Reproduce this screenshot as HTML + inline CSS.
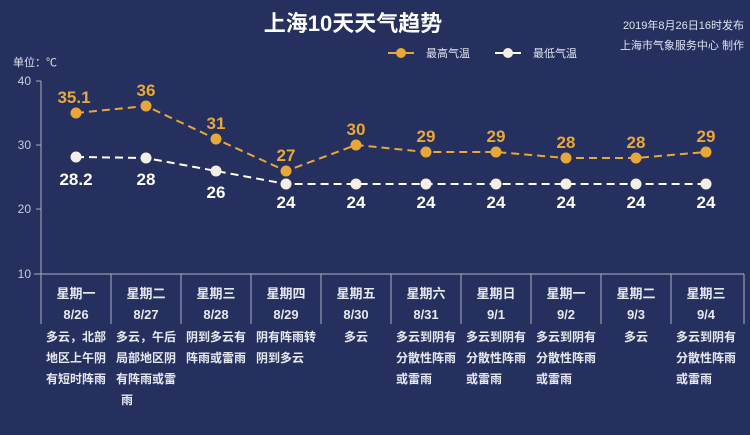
<!DOCTYPE html><html><head><meta charset="utf-8"><style>
body{margin:0;width:750px;height:430px;background:#25305e;overflow:hidden;font-family:"Liberation Sans","Noto Sans CJK SC",sans-serif}
</style></head><body>
<svg width="750" height="430" xmlns="http://www.w3.org/2000/svg" font-family="Liberation Sans, Noto Sans CJK SC, sans-serif">
<text x="353" y="31" fill="#fff" font-size="22" font-weight="bold" text-anchor="middle">上海10天天气趋势</text>
<text x="744" y="29" fill="#dfe3ee" font-size="11" text-anchor="end">2019年8月26日16时发布</text>
<text x="744" y="49" fill="#dfe3ee" font-size="11" text-anchor="end">上海市气象服务中心 制作</text>
<line x1="388" y1="53" x2="414" y2="53" stroke="#e8a838" stroke-width="2"/><circle cx="401" cy="53" r="5" fill="#e8a838"/>
<text x="426" y="57" fill="#dfe3ee" font-size="11">最高气温</text>
<line x1="495" y1="53" x2="521" y2="53" stroke="#fff" stroke-width="2"/><circle cx="508" cy="53" r="5" fill="#f3efe6"/>
<text x="533" y="57" fill="#dfe3ee" font-size="11">最低气温</text>
<text x="13" y="66" fill="#dfe3ee" font-size="11">单位：℃</text>
<g fill="#c8ccd8" font-size="12" text-anchor="end">
<text x="31" y="85">40</text><text x="31" y="149">30</text><text x="31" y="213">20</text><text x="31" y="278">10</text></g>
<g stroke="#a8afc4" stroke-width="1">
<line x1="41" y1="81" x2="41" y2="324"/><line x1="36" y1="81" x2="41" y2="81"/><line x1="36" y1="145" x2="41" y2="145"/><line x1="36" y1="209" x2="41" y2="209"/>
<line x1="34" y1="274" x2="744" y2="274"/>
<line x1="111" y1="274" x2="111" y2="324"/><line x1="181" y1="274" x2="181" y2="324"/><line x1="251" y1="274" x2="251" y2="324"/><line x1="321" y1="274" x2="321" y2="324"/><line x1="391" y1="274" x2="391" y2="324"/><line x1="461" y1="274" x2="461" y2="324"/><line x1="531" y1="274" x2="531" y2="324"/><line x1="601" y1="274" x2="601" y2="324"/><line x1="671" y1="274" x2="671" y2="324"/><line x1="744" y1="274" x2="744" y2="324"/>
</g>
<polyline fill="none" stroke="#e8a838" stroke-width="2" stroke-dasharray="8,5" points="76,113 146,106 216,139 286,171 356,145 426,152 496,152 566,158 636,158 706,152"/>
<polyline fill="none" stroke="#fff" stroke-width="2" stroke-dasharray="8,5" points="76,157 146,158 216,171 286,184 356,184 426,184 496,184 566,184 636,184 706,184"/>
<g fill="#e8a838"><circle cx="76" cy="113" r="5.5"/><circle cx="146" cy="106" r="5.5"/><circle cx="216" cy="139" r="5.5"/><circle cx="286" cy="171" r="5.5"/><circle cx="356" cy="145" r="5.5"/><circle cx="426" cy="152" r="5.5"/><circle cx="496" cy="152" r="5.5"/><circle cx="566" cy="158" r="5.5"/><circle cx="636" cy="158" r="5.5"/><circle cx="706" cy="152" r="5.5"/></g>
<g fill="#f3efe6"><circle cx="76" cy="157" r="5.5"/><circle cx="146" cy="158" r="5.5"/><circle cx="216" cy="171" r="5.5"/><circle cx="286" cy="184" r="5.5"/><circle cx="356" cy="184" r="5.5"/><circle cx="426" cy="184" r="5.5"/><circle cx="496" cy="184" r="5.5"/><circle cx="566" cy="184" r="5.5"/><circle cx="636" cy="184" r="5.5"/><circle cx="706" cy="184" r="5.5"/></g>
<g fill="#e8a838" font-size="17" font-weight="bold" text-anchor="middle">
<text x="74" y="103">35.1</text><text x="146" y="96">36</text><text x="216" y="129">31</text><text x="286" y="161">27</text><text x="356" y="135">30</text><text x="426" y="142">29</text><text x="496" y="142">29</text><text x="566" y="148">28</text><text x="636" y="148">28</text><text x="706" y="142">29</text></g>
<g fill="#fff" font-size="17" font-weight="bold" text-anchor="middle">
<text x="76" y="185">28.2</text><text x="146" y="185">28</text><text x="216" y="198">26</text><text x="286" y="208">24</text><text x="356" y="208">24</text><text x="426" y="208">24</text><text x="496" y="208">24</text><text x="566" y="208">24</text><text x="636" y="208">24</text><text x="706" y="208">24</text></g>
<g fill="#e6e8f0" font-size="13" font-weight="bold" text-anchor="middle">
<text x="76" y="298">星期一</text><text x="146" y="298">星期二</text><text x="216" y="298">星期三</text><text x="286" y="298">星期四</text><text x="356" y="298">星期五</text><text x="426" y="298">星期六</text><text x="496" y="298">星期日</text><text x="566" y="298">星期一</text><text x="636" y="298">星期二</text><text x="706" y="298">星期三</text>
<text x="76" y="319">8/26</text><text x="146" y="319">8/27</text><text x="216" y="319">8/28</text><text x="286" y="319">8/29</text><text x="356" y="319">8/30</text><text x="426" y="319">8/31</text><text x="496" y="319">9/1</text><text x="566" y="319">9/2</text><text x="636" y="319">9/3</text><text x="706" y="319">9/4</text></g>
<g fill="#e6e8f0" font-size="12" font-weight="bold" text-anchor="middle">
<text x="76" y="341">多云，北部</text><text x="76" y="362">地区上午阴</text><text x="76" y="383">有短时阵雨</text>
<text x="146" y="341">多云，午后</text><text x="146" y="362">局部地区阴</text><text x="146" y="383">有阵雨或雷</text><text x="127" y="404">雨</text>
<text x="216" y="341">阴到多云有</text><text x="216" y="362">阵雨或雷雨</text>
<text x="286" y="341">阴有阵雨转</text><text x="280" y="362">阴到多云</text>
<text x="356" y="341">多云</text>
<text x="426" y="341">多云到阴有</text><text x="426" y="362">分散性阵雨</text><text x="414" y="383">或雷雨</text>
<text x="496" y="341">多云到阴有</text><text x="496" y="362">分散性阵雨</text><text x="484" y="383">或雷雨</text>
<text x="566" y="341">多云到阴有</text><text x="566" y="362">分散性阵雨</text><text x="554" y="383">或雷雨</text>
<text x="636" y="341">多云</text>
<text x="706" y="341">多云到阴有</text><text x="706" y="362">分散性阵雨</text><text x="694" y="383">或雷雨</text>
</g>
</svg></body></html>
